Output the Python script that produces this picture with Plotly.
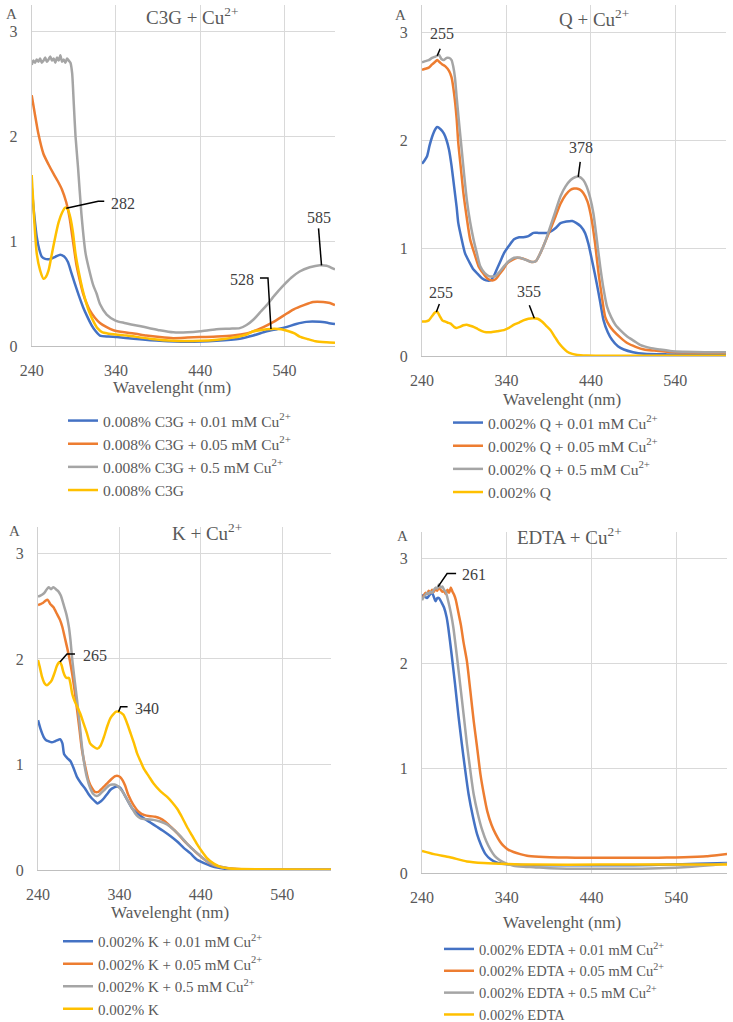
import numpy as np
import plotly.graph_objects as go

# ---------------- data ----------------
ticks_x = [240, 340, 440, 540]
ticks_y = [0, 1, 2, 3]
colors = ["#4472C4", "#ED7D31", "#A5A5A5", "#FFC000"]

# Panel 1: C3G + Cu2+
c3g_blue_x = [240, 243, 246, 249, 252, 256, 262, 268, 274, 279, 283, 287, 291, 296, 301, 306, 311, 316, 321, 331, 341, 361, 392, 424, 459, 487, 503, 519, 531, 542, 554, 566, 582, 592, 600]
c3g_blue_y = [1.52, 1.25, 1.04, 0.92, 0.85, 0.83, 0.83, 0.85, 0.87, 0.85, 0.8, 0.7, 0.6, 0.48, 0.37, 0.28, 0.2, 0.14, 0.1, 0.09, 0.085, 0.07, 0.05, 0.04, 0.05, 0.07, 0.1, 0.14, 0.16, 0.18, 0.21, 0.23, 0.23, 0.22, 0.21]
c3g_orange_x = [240, 244, 248, 254, 260, 266, 271, 276, 281, 285, 289, 293, 297, 301, 305, 309, 315, 321, 329, 337, 350, 361, 376, 392, 408, 425, 440, 460, 479, 495, 503, 515, 527, 539, 551, 563, 574, 586, 594, 600]
c3g_orange_y = [2.39, 2.2, 2.02, 1.83, 1.73, 1.64, 1.57, 1.49, 1.37, 1.22, 1.0, 0.78, 0.63, 0.5, 0.41, 0.34, 0.27, 0.22, 0.18, 0.15, 0.13, 0.12, 0.1, 0.085, 0.075, 0.08, 0.085, 0.09, 0.1, 0.12, 0.14, 0.18, 0.23, 0.29, 0.35, 0.39, 0.42, 0.42, 0.41, 0.39]
c3g_gray_x = [240, 242, 244, 246, 248, 250, 252, 254, 256, 258, 260, 262, 264, 266, 268, 270, 272, 274, 276, 278, 280, 282, 284, 286, 288, 290, 292, 295, 299, 304, 309, 313, 317, 321, 329, 340, 350, 368, 380, 392, 408, 425, 440, 459, 475, 487, 495, 503, 511, 519, 528, 538, 548, 558, 570, 582, 590, 600]
c3g_gray_y = [2.68, 2.72, 2.70, 2.73, 2.71, 2.74, 2.70, 2.72, 2.75, 2.71, 2.73, 2.76, 2.72, 2.74, 2.70, 2.75, 2.72, 2.77, 2.71, 2.73, 2.70, 2.74, 2.72, 2.70, 2.6, 2.3, 2.0, 1.7, 1.26, 0.88, 0.7, 0.58, 0.5, 0.4, 0.3, 0.24, 0.22, 0.19, 0.17, 0.15, 0.13, 0.13, 0.14, 0.16, 0.165, 0.17, 0.2, 0.25, 0.32, 0.39, 0.48, 0.57, 0.65, 0.71, 0.75, 0.77, 0.765, 0.73]
c3g_yellow_x = [240, 243, 246, 250, 254, 257, 260, 264, 268, 272, 276, 280, 283, 286, 289, 292, 296, 300, 304, 308, 313, 318, 324, 330, 340, 353, 380, 408, 440, 460, 479, 495, 503, 511, 519, 528, 536, 545, 552, 558, 568, 577, 590, 600]
c3g_yellow_y = [1.63, 1.2, 0.88, 0.72, 0.64, 0.66, 0.72, 0.88, 1.04, 1.18, 1.27, 1.32, 1.3, 1.22, 1.08, 0.88, 0.7, 0.55, 0.43, 0.33, 0.24, 0.17, 0.13, 0.12, 0.11, 0.1, 0.07, 0.05, 0.05, 0.06, 0.08, 0.11, 0.14, 0.15, 0.16, 0.165, 0.16, 0.14, 0.12, 0.09, 0.065, 0.045, 0.035, 0.03]

# Panel 2: Q + Cu2+
q_blue_x = [240, 243, 246, 249, 252, 255, 258, 262, 266, 269, 272, 275, 278, 281, 283, 287, 291, 296, 301, 306, 311, 316, 321, 325, 329, 333, 337, 343, 349, 355, 360, 366, 372, 378, 384, 389, 394, 399, 404, 411, 418, 423, 428, 433, 437, 442, 447, 451, 455, 460, 465, 472, 479, 490, 503, 530, 560, 600]
q_blue_y = [1.78, 1.81, 1.85, 1.95, 2.03, 2.09, 2.12, 2.1, 2.06, 2.0, 1.91, 1.76, 1.57, 1.38, 1.23, 1.08, 0.95, 0.87, 0.8, 0.76, 0.72, 0.7, 0.7, 0.74, 0.81, 0.88, 0.95, 1.02, 1.08, 1.1, 1.1, 1.11, 1.14, 1.14, 1.14, 1.14, 1.16, 1.19, 1.23, 1.245, 1.25, 1.23, 1.2, 1.14, 1.04, 0.86, 0.67, 0.5, 0.33, 0.22, 0.15, 0.09, 0.06, 0.035, 0.02, 0.015, 0.015, 0.015]
q_orange_x = [240, 244, 248, 252, 255, 258, 261, 264, 268, 272, 275, 278, 281, 283, 286, 289, 293, 297, 302, 307, 312, 317, 323, 327, 331, 336, 341, 347, 353, 360, 365, 370, 375, 380, 386, 392, 398, 404, 410, 416, 420, 423, 427, 431, 436, 441, 445, 449, 453, 457, 462, 467, 475, 483, 493, 503, 515, 530, 560, 600]
q_orange_y = [2.65, 2.66, 2.67, 2.70, 2.72, 2.74, 2.72, 2.70, 2.68, 2.64, 2.58, 2.43, 2.2, 1.97, 1.74, 1.51, 1.28, 1.08, 0.95, 0.83, 0.77, 0.72, 0.70, 0.71, 0.75, 0.8, 0.86, 0.89, 0.91, 0.9, 0.885, 0.87, 0.88, 0.95, 1.06, 1.17, 1.29, 1.41, 1.49, 1.54, 1.55, 1.55, 1.54, 1.51, 1.43, 1.26, 1.04, 0.77, 0.55, 0.36, 0.28, 0.23, 0.17, 0.12, 0.085, 0.06, 0.05, 0.04, 0.033, 0.03]
q_gray_x = [240, 244, 248, 252, 255, 258, 260, 263, 266, 269, 272, 275, 277, 279, 281, 284, 287, 290, 293, 297, 301, 305, 309, 314, 319, 323, 327, 332, 337, 343, 349, 356, 363, 370, 375, 380, 386, 392, 398, 404, 410, 416, 421, 426, 431, 435, 439, 443, 447, 451, 455, 459, 464, 469, 476, 483, 491, 499, 510, 522, 536, 550, 575, 600]
q_gray_y = [2.72, 2.73, 2.74, 2.76, 2.77, 2.78, 2.79, 2.75, 2.74, 2.76, 2.76, 2.74, 2.68, 2.58, 2.4, 2.15, 1.91, 1.67, 1.45, 1.24, 1.08, 0.95, 0.83, 0.77, 0.74, 0.735, 0.74, 0.78, 0.83, 0.88, 0.91, 0.91, 0.89, 0.87, 0.88, 0.95, 1.06, 1.2, 1.34, 1.48, 1.57, 1.63, 1.655, 1.66, 1.63, 1.57, 1.47, 1.32, 1.08, 0.83, 0.62, 0.46, 0.36, 0.29, 0.23, 0.18, 0.14, 0.1, 0.075, 0.06, 0.045, 0.04, 0.035, 0.035]
q_yellow_x = [240, 244, 248, 252, 255, 258, 261, 264, 267, 270, 274, 278, 281, 285, 289, 293, 297, 301, 306, 311, 316, 321, 329, 337, 343, 349, 355, 360, 366, 372, 377, 382, 387, 392, 397, 402, 407, 412, 418, 424, 435, 451, 480, 520, 560, 600]
q_yellow_y = [0.32, 0.32, 0.33, 0.37, 0.4, 0.41, 0.37, 0.33, 0.32, 0.31, 0.3, 0.27, 0.26, 0.27, 0.285, 0.29, 0.28, 0.27, 0.25, 0.23, 0.22, 0.22, 0.23, 0.24, 0.26, 0.29, 0.31, 0.33, 0.345, 0.35, 0.345, 0.32, 0.28, 0.24, 0.18, 0.12, 0.075, 0.04, 0.02, 0.01, 0.005, 0.003, 0.003, 0.003, 0.003, 0.003]

# Panel 3: K + Cu2+
k_blue_x = [240, 243, 247, 250, 253, 257, 261, 264, 267, 270, 272, 276, 280, 284, 288, 293, 298, 302, 306, 310, 313, 317, 321, 325, 329, 333, 337, 341, 345, 350, 356, 363, 370, 378, 386, 394, 403, 411, 419, 427, 435, 444, 452, 462, 472, 490, 530, 600]
k_blue_y = [1.42, 1.34, 1.26, 1.23, 1.22, 1.21, 1.22, 1.23, 1.24, 1.2, 1.1, 1.06, 1.03, 0.96, 0.88, 0.82, 0.77, 0.72, 0.68, 0.65, 0.63, 0.65, 0.68, 0.72, 0.76, 0.78, 0.79, 0.78, 0.73, 0.66, 0.58, 0.53, 0.49, 0.45, 0.41, 0.37, 0.32, 0.27, 0.21, 0.16, 0.1, 0.065, 0.04, 0.02, 0.01, 0.005, 0.003, 0.003]
k_orange_x = [240, 243, 246, 249, 252, 255, 259, 263, 267, 270, 273, 276, 279, 282, 285, 288, 291, 294, 298, 302, 306, 310, 314, 317, 321, 325, 330, 335, 339, 341, 344, 347, 351, 357, 364, 371, 378, 384, 390, 396, 403, 411, 419, 427, 435, 443, 452, 461, 472, 490, 530, 600]
k_orange_y = [2.51, 2.52, 2.53, 2.55, 2.56, 2.52, 2.49, 2.43, 2.37, 2.3, 2.2, 2.1, 1.99, 1.86, 1.7, 1.52, 1.33, 1.14, 0.98, 0.85, 0.78, 0.74, 0.74, 0.76, 0.79, 0.82, 0.86, 0.89, 0.89, 0.88, 0.85, 0.8, 0.71, 0.62, 0.55, 0.52, 0.51, 0.505, 0.49, 0.46, 0.41, 0.35, 0.28, 0.22, 0.16, 0.11, 0.06, 0.035, 0.02, 0.008, 0.005, 0.005]
k_gray_x = [240, 243, 247, 250, 253, 256, 259, 262, 265, 268, 272, 275, 278, 280, 282, 285, 288, 291, 294, 297, 300, 304, 308, 312, 315, 319, 323, 327, 331, 334, 337, 341, 345, 350, 356, 361, 366, 374, 382, 390, 399, 407, 415, 423, 431, 440, 448, 456, 464, 475, 489, 520, 560, 600]
k_gray_y = [2.59, 2.6, 2.62, 2.65, 2.68, 2.66, 2.68, 2.66, 2.64, 2.6, 2.5, 2.42, 2.3, 2.17, 2.0, 1.8, 1.61, 1.4, 1.17, 1.0, 0.88, 0.78, 0.72, 0.7, 0.71, 0.74, 0.77, 0.8, 0.81, 0.81, 0.8, 0.77, 0.73, 0.66, 0.58, 0.52, 0.49, 0.48, 0.475, 0.46, 0.43, 0.38, 0.32, 0.25, 0.19, 0.13, 0.08, 0.05, 0.03, 0.015, 0.008, 0.005, 0.005, 0.005]
k_yellow_x = [240, 242, 245, 248, 251, 254, 257, 260, 263, 265, 267, 269, 271, 273, 275, 278, 280, 282, 285, 288, 292, 296, 300, 304, 308, 313, 317, 321, 325, 329, 333, 336, 339, 342, 345, 349, 354, 358, 362, 366, 370, 376, 382, 390, 399, 405, 411, 417, 423, 429, 435, 441, 448, 456, 464, 476, 489, 530, 600]
k_yellow_y = [1.99, 1.93, 1.83, 1.77, 1.75, 1.77, 1.8, 1.86, 1.93, 1.96, 1.97, 1.94, 1.88, 1.84, 1.82, 1.82, 1.76, 1.67, 1.6, 1.55, 1.48, 1.39, 1.3, 1.2, 1.17, 1.15, 1.18, 1.26, 1.36, 1.44, 1.48, 1.5, 1.5, 1.49, 1.47, 1.4, 1.29, 1.2, 1.1, 1.03, 0.96, 0.89, 0.82, 0.75, 0.69, 0.64, 0.58, 0.5, 0.41, 0.33, 0.25, 0.18, 0.11, 0.06, 0.03, 0.015, 0.01, 0.005, 0.003]

# Panel 4: EDTA + Cu2+
e_blue_x = [240, 242, 244, 246, 248, 250, 252, 254, 256, 258, 260, 263, 266, 269, 271, 275, 279, 283, 287, 291, 295, 300, 305, 310, 315, 321, 328, 338, 348, 370, 391, 420, 450, 490, 529, 565, 600]
e_blue_y = [2.64, 2.65, 2.63, 2.62, 2.64, 2.66, 2.67, 2.63, 2.59, 2.62, 2.62, 2.58, 2.53, 2.44, 2.34, 2.08, 1.8, 1.5, 1.23, 0.98, 0.75, 0.54, 0.37, 0.26, 0.18, 0.13, 0.1, 0.085, 0.08, 0.075, 0.073, 0.073, 0.073, 0.075, 0.08, 0.088, 0.095]
e_orange_x = [240, 242, 244, 246, 248, 250, 252, 254, 256, 258, 260, 262, 264, 266, 268, 270, 272, 274, 276, 278, 280, 283, 286, 289, 293, 297, 301, 305, 309, 313, 317, 322, 327, 332, 336, 342, 348, 356, 364, 378, 391, 411, 431, 450, 470, 490, 509, 529, 549, 565, 576, 588, 600]
e_orange_y = [2.62, 2.64, 2.67, 2.66, 2.69, 2.67, 2.7, 2.68, 2.71, 2.69, 2.73, 2.7, 2.68, 2.69, 2.66, 2.7, 2.67, 2.72, 2.68, 2.65, 2.6, 2.48, 2.36, 2.2, 2.02, 1.74, 1.45, 1.2, 0.94, 0.75, 0.59, 0.46, 0.37, 0.3, 0.26, 0.22, 0.2, 0.18, 0.165, 0.155, 0.15, 0.147, 0.145, 0.145, 0.145, 0.145, 0.145, 0.147, 0.15, 0.155, 0.16, 0.17, 0.18]
e_gray_x = [240, 242, 244, 246, 248, 250, 252, 254, 256, 258, 260, 262, 264, 266, 268, 271, 274, 277, 281, 285, 289, 293, 297, 301, 306, 311, 316, 321, 326, 332, 340, 348, 360, 372, 391, 411, 430, 450, 470, 490, 510, 529, 549, 568, 584, 600]
e_gray_y = [2.6, 2.63, 2.65, 2.67, 2.66, 2.68, 2.67, 2.7, 2.72, 2.71, 2.75, 2.72, 2.73, 2.7, 2.68, 2.59, 2.48, 2.34, 2.08, 1.8, 1.52, 1.23, 0.98, 0.75, 0.56, 0.41, 0.3, 0.22, 0.16, 0.12, 0.09, 0.07, 0.06, 0.055, 0.045, 0.04, 0.04, 0.04, 0.04, 0.04, 0.042, 0.047, 0.055, 0.066, 0.077, 0.09]
e_yellow_x = [240, 254, 273, 293, 313, 340, 372, 450, 529, 600]
e_yellow_y = [0.21, 0.18, 0.15, 0.11, 0.095, 0.085, 0.08, 0.08, 0.08, 0.08]

sup = "Cu<sup>2+</sup>"
panel_titles = ["C3G + " + sup, "Q + " + sup, "K + " + sup, "EDTA + " + sup]
series_names = [
    ["0.008% C3G + 0.01 mM " + sup, "0.008% C3G + 0.05 mM " + sup, "0.008% C3G + 0.5 mM " + sup, "0.008% C3G"],
    ["0.002% Q + 0.01 mM " + sup, "0.002% Q + 0.05 mM " + sup, "0.002% Q + 0.5 mM " + sup, "0.002% Q"],
    ["0.002% K + 0.01 mM " + sup, "0.002% K + 0.05 mM " + sup, "0.002% K + 0.5 mM " + sup, "0.002% K"],
    ["0.002% EDTA + 0.01 mM " + sup, "0.002% EDTA + 0.05 mM " + sup, "0.002% EDTA + 0.5 mM " + sup, "0.002% EDTA"],
]
panel_series = [
    [(c3g_blue_x, c3g_blue_y), (c3g_orange_x, c3g_orange_y), (c3g_gray_x, c3g_gray_y), (c3g_yellow_x, c3g_yellow_y)],
    [(q_blue_x, q_blue_y), (q_orange_x, q_orange_y), (q_gray_x, q_gray_y), (q_yellow_x, q_yellow_y)],
    [(k_blue_x, k_blue_y), (k_orange_x, k_orange_y), (k_gray_x, k_gray_y), (k_yellow_x, k_yellow_y)],
    [(e_blue_x, e_blue_y), (e_orange_x, e_orange_y), (e_gray_x, e_gray_y), (e_yellow_x, e_yellow_y)],
]

# peak labels: (panel, text, series index, wavelength position on axis)
peak_labels = [
    (0, "282", 3, 281), (0, "528", 3, 524), (0, "585", 2, 584),
    (1, "255", 2, 258), (1, "378", 2, 425), (1, "255", 3, 257), (1, "355", 3, 373),
    (2, "265", 3, 267), (2, "340", 3, 339),
    (3, "261", 2, 259),
]

# ---------------- layout / style ----------------
W, H = 733, 1022
FONT = "Liberation Serif, Times New Roman, serif"
TXT = "#595959"

# plot areas in pixels: (left, right, bottom, top)
areas = [(31.7, 335, 346, 5), (422, 726, 356, 5), (38, 331, 870, 527), (422, 727, 873, 532)]
legend_pos = [(63, 404, 15.5), (448, 406, 15.5), (58, 925, 15), (439, 933, 14.5)]
title_pos = [(0.5285, -11), (0.566, -13), (0.577, -5), (0.485, -4)]
a_pos = [(-20, -9), (-22, -10), (-24, -4), (-20, -4)]
xtitle_pos = [(0.4626, -42), (0.46, -43), (0.45, -42), (0.46, -49)]

# leader styles per peak label: (path in px relative to peak, text xanchor, xshift, yshift)
leader_styles = [
    ("M0,0 L32,7 L38,7", "left", 43, 5),
    ("M0,0 L-3,51 L-11,51", "right", -15, 49),
    ("M0,0 L-3,37", "center", -3, 48),
    ("M0,0 L3,7", "center", 5, 22),
    ("M0,0 L2,15", "center", 3, 29),
    ("M0,0 L3,8", "center", 5, 20),
    ("M0,0 L-5,13", "center", -5, 27),
    ("M0,0 L7,8 L15,8", "left", 21, 7),
    ("M0,0 L2,5 L9,5", "left", 14, 3),
    ("M0,0 L9,13 L18,13", "left", 22, 12),
]

fig = go.Figure()
annotations = []
shapes = []

for p in range(4):
    sfx = "" if p == 0 else str(p + 1)
    leg = "legend" if p == 0 else "legend" + str(p + 1)
    for s in range(4):
        xs, ys = panel_series[p][s]
        fig.add_trace(go.Scatter(
            x=xs, y=ys, mode="lines", name=series_names[p][s],
            line=dict(color=colors[s], width=2.5, shape="spline", smoothing=0.6),
            xaxis="x" + sfx, yaxis="y" + sfx, legend=leg, hoverinfo="skip",
        ))
    l, r, b, t = areas[p]
    fig.layout["xaxis" + sfx] = dict(
        domain=[l / W, r / W], range=[240, 600], anchor="y" + sfx,
        tickvals=ticks_x, showgrid=True, gridcolor="#D9D9D9", gridwidth=1,
        zeroline=False, showline=True, linecolor="#BFBFBF", linewidth=1,
        ticks="", ticklabelstandoff=10,
        tickfont=dict(family=FONT, size=16, color=TXT),
    )
    fig.layout["yaxis" + sfx] = dict(
        domain=[1 - b / H, 1 - t / H], range=[0, 3.25], anchor="x" + sfx,
        tickvals=ticks_y, showgrid=True, gridcolor="#D9D9D9", gridwidth=1,
        zeroline=False, showline=True, linecolor="#D0D0D0", linewidth=1,
        ticks="", ticklabelstandoff=10,
        tickfont=dict(family=FONT, size=16, color=TXT),
    )
    lx, ly, lfs = legend_pos[p]
    fig.layout[leg] = dict(
        x=lx / W, y=1 - ly / H, xanchor="left", yanchor="top",
        font=dict(family=FONT, size=lfs, color=TXT),
        bgcolor="rgba(0,0,0,0)", borderwidth=0, itemwidth=30, tracegroupgap=0,
    )
    # panel title
    tx, ty = title_pos[p]
    annotations.append(dict(text=panel_titles[p], xref="x" + sfx + " domain", yref="y" + sfx + " domain",
                            x=tx, y=1, yshift=ty, showarrow=False, xanchor="center", yanchor="middle",
                            font=dict(family=FONT, size=19, color=TXT)))
    # "A" axis label
    ax_, ay_ = a_pos[p]
    annotations.append(dict(text="A", xref="x" + sfx + " domain", yref="y" + sfx + " domain",
                            x=0, y=1, xshift=ax_, yshift=ay_, showarrow=False, xanchor="center", yanchor="middle",
                            font=dict(family=FONT, size=15, color=TXT)))
    # x-axis title
    xx, xy = xtitle_pos[p]
    annotations.append(dict(text="Wavelenght (nm)", xref="x" + sfx + " domain", yref="y" + sfx + " domain",
                            x=xx, y=0, yshift=xy, showarrow=False, xanchor="center", yanchor="middle",
                            font=dict(family=FONT, size=17, color=TXT)))

for (p, txt, s, wl), (path, xa, xs_, ys_) in zip(peak_labels, leader_styles):
    sfx = "" if p == 0 else str(p + 1)
    sx, sy = panel_series[p][s]
    yv = float(np.interp(wl, sx, sy))
    shapes.append(dict(type="path", xref="x" + sfx, yref="y" + sfx, xsizemode="pixel", ysizemode="pixel",
                       xanchor=wl, yanchor=yv, path=path, line=dict(color="black", width=1.5)))
    annotations.append(dict(text=txt, xref="x" + sfx, yref="y" + sfx, x=wl, y=yv, xshift=xs_, yshift=ys_,
                            showarrow=False, xanchor=xa, yanchor="middle",
                            font=dict(family=FONT, size=16, color="#404040")))

fig.update_layout(
    width=W, height=H, margin=dict(l=0, r=0, t=0, b=0, autoexpand=False),
    paper_bgcolor="white", plot_bgcolor="white",
    annotations=annotations, shapes=shapes, showlegend=True,
)

fig.write_html("out.html", config={"displayModeBar": False, "responsive": False},
               post_script="document.body.style.margin='0';document.body.style.overflow='hidden';")
